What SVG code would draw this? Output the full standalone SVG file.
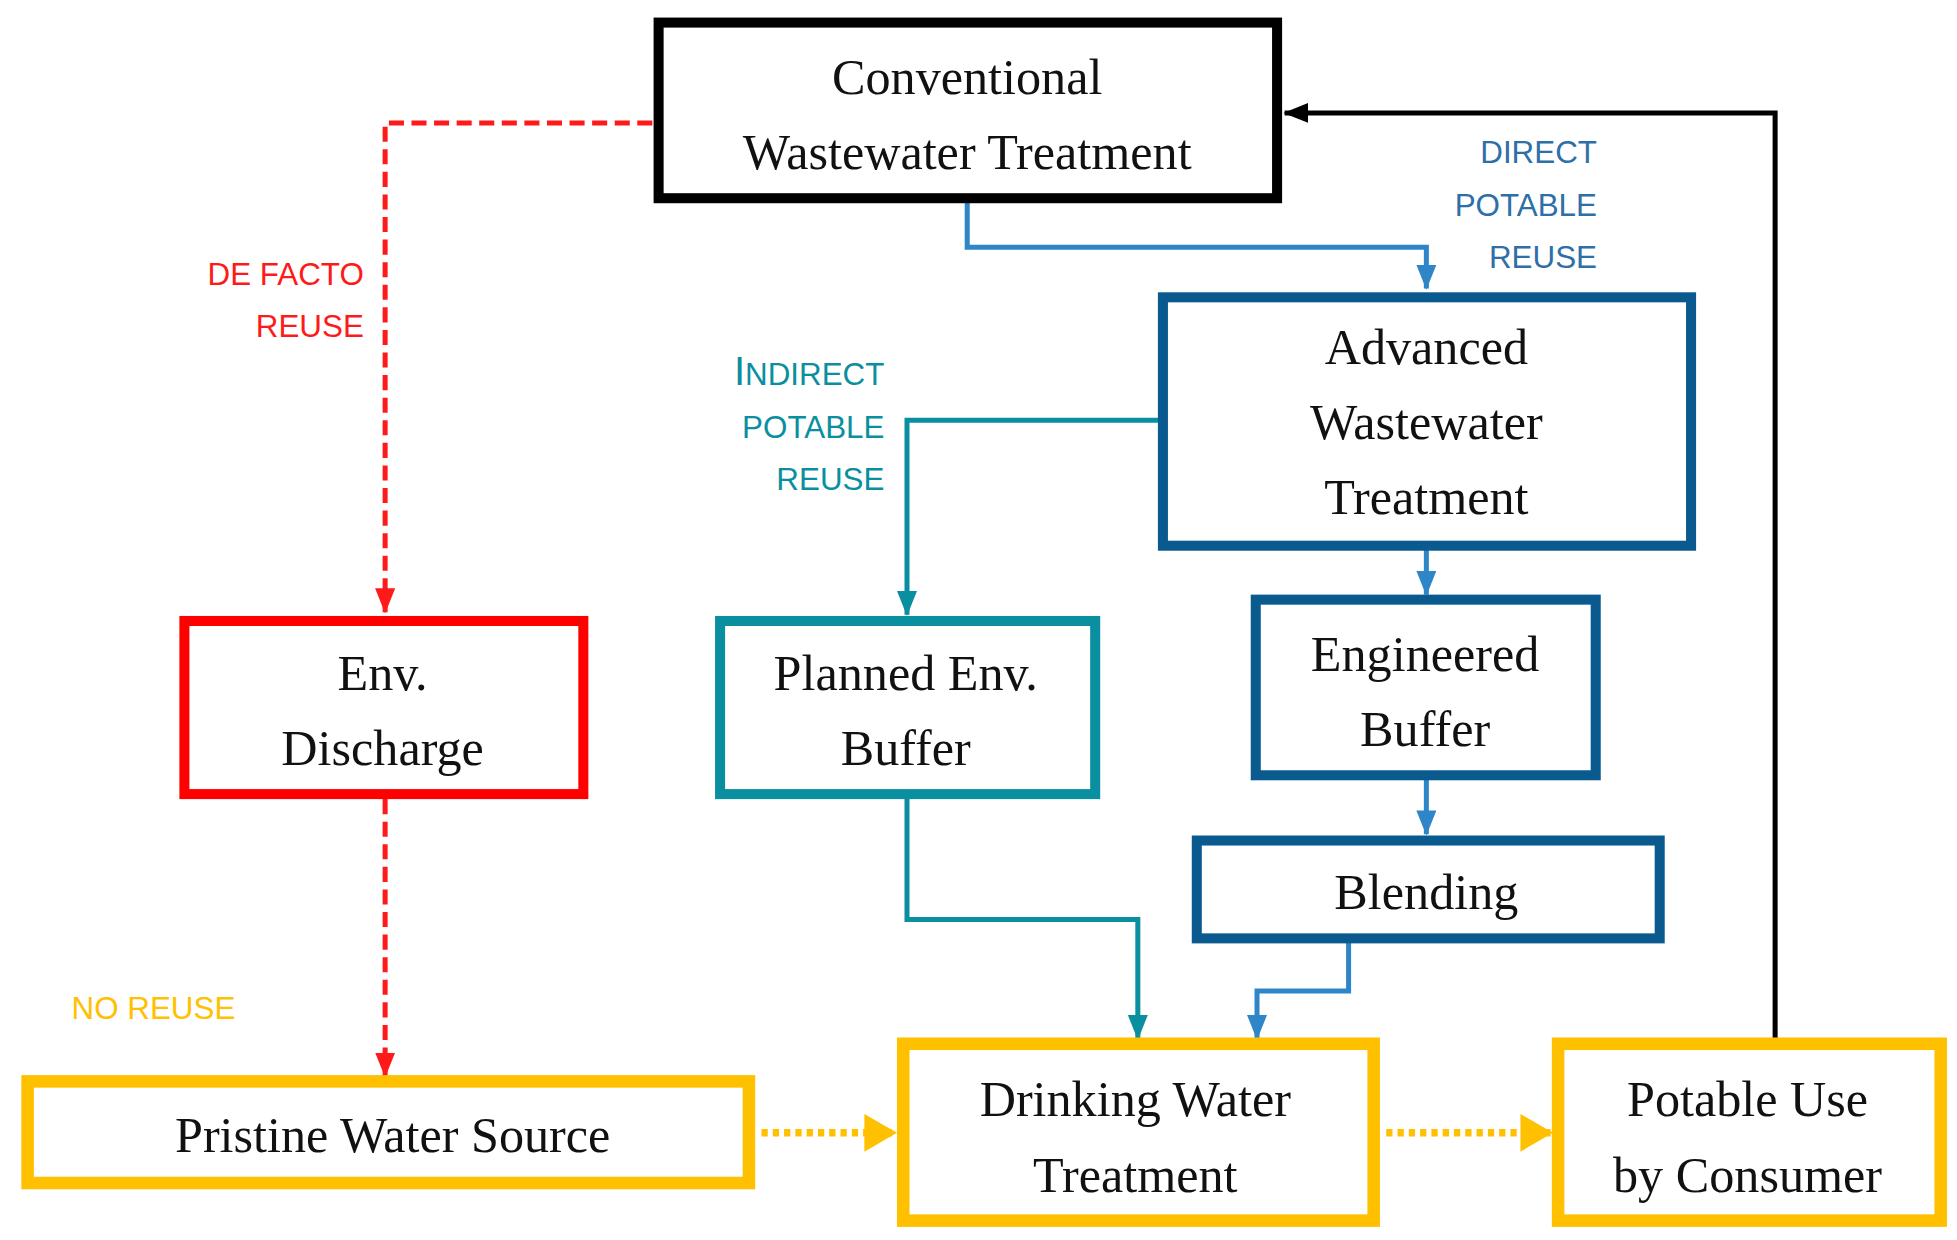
<svg xmlns="http://www.w3.org/2000/svg" width="1957" height="1240" viewBox="0 0 1957 1240">
<style>
.box{fill:#fff}
.t{font-family:"Liberation Serif",serif;font-size:40px;fill:#111;text-anchor:middle}
.l{font-family:"Liberation Sans",sans-serif;font-size:25px;text-anchor:end}
.c{fill:none}
</style>
<defs>
<marker id="aR" markerUnits="userSpaceOnUse" markerWidth="20" markerHeight="26" refX="19" refY="8" orient="auto"><path d="M0,0 L20,8 L0,16Z" fill="#ff1a1a"/></marker>
<marker id="aB" markerUnits="userSpaceOnUse" markerWidth="20" markerHeight="26" refX="19" refY="8" orient="auto"><path d="M0,0 L20,8 L0,16Z" fill="#2e86c8"/></marker>
<marker id="aT" markerUnits="userSpaceOnUse" markerWidth="20" markerHeight="26" refX="19" refY="8" orient="auto"><path d="M0,0 L20,8 L0,16Z" fill="#0a8fa0"/></marker>
<marker id="aK" markerUnits="userSpaceOnUse" markerWidth="20" markerHeight="26" refX="19" refY="8" orient="auto"><path d="M0,0 L20,8 L0,16Z" fill="#000"/></marker>
<marker id="aY" markerUnits="userSpaceOnUse" markerWidth="26" markerHeight="34" refX="25" refY="15" orient="auto"><path d="M0,0 L26,15 L0,30Z" fill="#ffc000"/></marker>
</defs>
<g transform="scale(1.2545)">
<g id="connectors">
<path class="c" d="M520,98 H307 V488" stroke="#ff1a1a" stroke-width="4" stroke-dasharray="12,6" marker-end="url(#aR)"/>
<path class="c" d="M307,637 V858" stroke="#ff1a1a" stroke-width="4" stroke-dasharray="12,6" marker-end="url(#aR)"/>
<path class="c" d="M771,160 V197 H1137 V230" stroke="#2e86c8" stroke-width="4" marker-end="url(#aB)"/>
<path class="c" d="M1415,828 V90 H1024" stroke="#000" stroke-width="4" marker-end="url(#aK)"/>
<path class="c" d="M925,335 H723 V490" stroke="#0a8fa0" stroke-width="4" marker-end="url(#aT)"/>
<path class="c" d="M1137,438 V474" stroke="#2e86c8" stroke-width="4" marker-end="url(#aB)"/>
<path class="c" d="M1137,621 V665" stroke="#2e86c8" stroke-width="4" marker-end="url(#aB)"/>
<path class="c" d="M723,636 V733 H907 V828" stroke="#0a8fa0" stroke-width="4" marker-end="url(#aT)"/>
<path class="c" d="M1075,751 V790 H1002 V828" stroke="#2e86c8" stroke-width="4" marker-end="url(#aB)"/>
<path class="c" d="M607,903 H714" stroke="#ffc000" stroke-width="6" stroke-dasharray="5,4" marker-end="url(#aY)"/>
<path class="c" d="M1105,903 H1237" stroke="#ffc000" stroke-width="6" stroke-dasharray="5,4" marker-end="url(#aY)"/>
<text class="l" x="290" y="227" fill="#ff1a1a">DE FACTO</text>
<text class="l" x="290" y="269" fill="#ff1a1a">REUSE</text>
<text class="l" x="1273" y="130" fill="#2e6fa8">DIRECT</text>
<text class="l" x="1273" y="172" fill="#2e6fa8">POTABLE</text>
<text class="l" x="1273" y="214" fill="#2e6fa8">REUSE</text>
<text class="l" x="705" y="307" fill="#0a8fa0"><tspan font-size="32">I</tspan>NDIRECT</text>
<text class="l" x="705" y="349" fill="#0a8fa0">POTABLE</text>
<text class="l" x="705" y="391" fill="#0a8fa0">REUSE</text>
<text class="l" x="57" y="812" fill="#ffc000" text-anchor="start" style="text-anchor:start">NO REUSE</text>
</g>
<g id="conventional"><rect class="box" x="525" y="18" width="493" height="140" stroke="#000" stroke-width="8"/><text class="t" x="771" y="75">Conventional</text><text class="t" x="771" y="135">Wastewater Treatment</text></g>
<g id="advanced"><rect class="box" x="927" y="237" width="421" height="198" stroke="#0a5a8f" stroke-width="8"/><text class="t" x="1137" y="290">Advanced</text><text class="t" x="1137" y="350">Wastewater</text><text class="t" x="1137" y="410">Treatment</text></g>
<g id="engineered"><rect class="box" x="1001" y="478" width="271" height="140" stroke="#0a5a8f" stroke-width="8"/><text class="t" x="1136" y="535">Engineered</text><text class="t" x="1136" y="595">Buffer</text></g>
<g id="blending"><rect class="box" x="954" y="670" width="369" height="78" stroke="#0a5a8f" stroke-width="8"/><text class="t" x="1137" y="725">Blending</text></g>
<g id="envdischarge"><rect class="box" x="147" y="495" width="318" height="138" stroke="#ff0000" stroke-width="8"/><text class="t" x="305" y="550">Env.</text><text class="t" x="305" y="610">Discharge</text></g>
<g id="planned"><rect class="box" x="574" y="495" width="299" height="138" stroke="#0a8fa0" stroke-width="8"/><text class="t" x="722" y="550">Planned Env.</text><text class="t" x="722" y="610">Buffer</text></g>
<g id="pristine"><rect class="box" x="22" y="862" width="575" height="81" stroke="#ffc000" stroke-width="10"/><text class="t" x="313" y="918">Pristine Water Source</text></g>
<g id="drinking"><rect class="box" x="720" y="832" width="375" height="141" stroke="#ffc000" stroke-width="10"/><text class="t" x="905" y="890">Drinking Water</text><text class="t" x="905" y="950">Treatment</text></g>
<g id="potable"><rect class="box" x="1242" y="832" width="305" height="141" stroke="#ffc000" stroke-width="10"/><text class="t" x="1393" y="890">Potable Use</text><text class="t" x="1393" y="950">by Consumer</text></g>
</g>
</svg>
